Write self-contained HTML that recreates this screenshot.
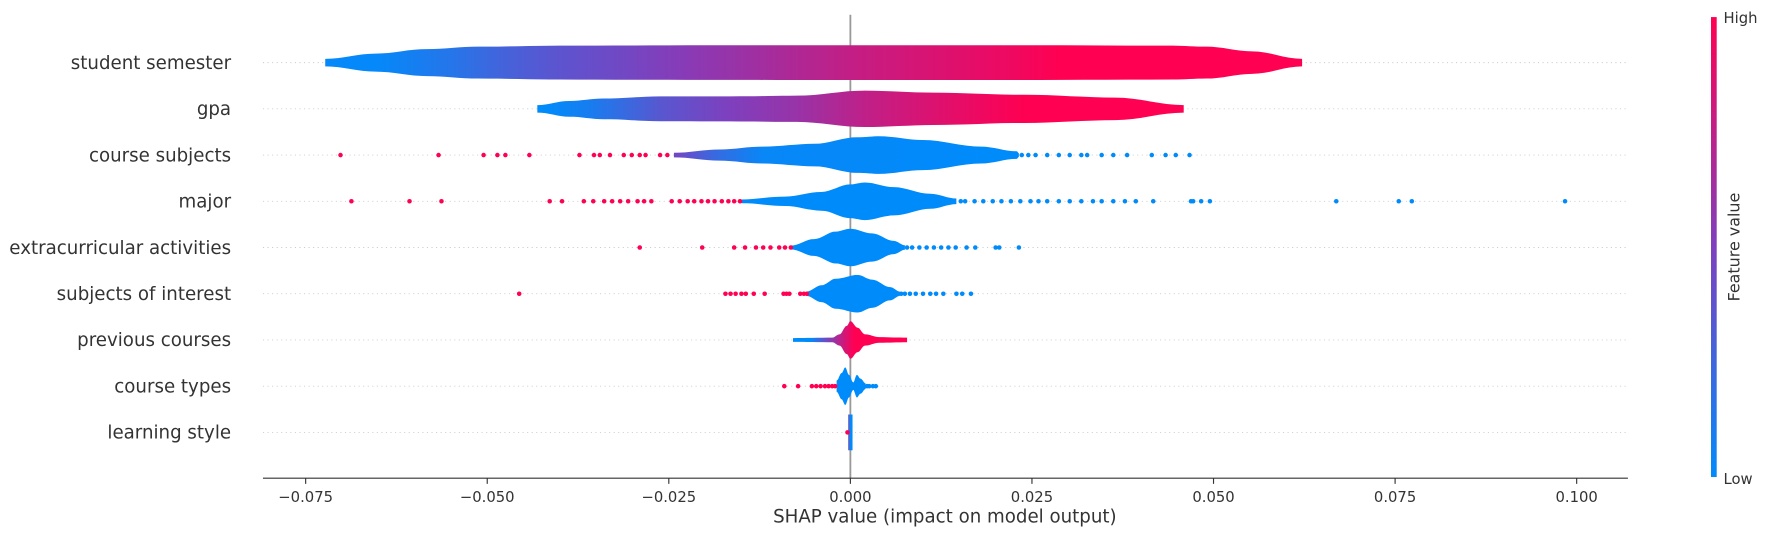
<!DOCTYPE html>
<html><head><meta charset="utf-8"><style>
body{margin:0;background:#fff;font-family:"Liberation Sans",sans-serif}
svg text{font-family:"DejaVu Sans","Liberation Sans",sans-serif}
svg{display:block}
</style></head><body>
<svg id="c" width="1785" height="536" viewBox="0 0 1568 470.8" preserveAspectRatio="none"></svg>
<script>
const features=["student semester","gpa","course subjects","major","extracurricular activities","subjects of interest","previous courses","course types","learning style"];
// violin profiles: [shap value, relative density]
const prof0=[[-0.0723,0.2],[-0.0654,0.48],[-0.0583,0.72],[-0.0513,0.85],[-0.04,0.9],[-0.02,0.92],[0,0.93],[0.02,0.93],[0.0444,0.9],[0.049,0.85],[0.0553,0.6],[0.0622,0.2]];
const prof1=[[-0.0431,0.2],[-0.0387,0.42],[-0.034,0.55],[-0.0262,0.66],[-0.0152,0.67],[-0.0074,0.7],[0.002,0.97],[0.0114,0.86],[0.024,0.75],[0.0365,0.6],[0.0459,0.2]];
const prof2=[[-0.0243,0.12],[-0.018,0.3],[-0.012,0.45],[-0.005,0.6],[0.001,0.95],[0.004,1],[0.01,0.8],[0.018,0.45],[0.0229,0.2],[0.0232,0.1]];
const prof3=[[-0.015,0.1],[-0.009,0.25],[-0.004,0.5],[0,0.9],[0.002,1],[0.006,0.75],[0.011,0.4],[0.0146,0.15]];
const prof4=[[-0.0082,0.1],[-0.005,0.45],[-0.002,0.85],[0,1],[0.003,0.75],[0.006,0.35],[0.0075,0.12]];
const prof5=[[-0.006,0.12],[-0.004,0.45],[-0.002,0.8],[0.001,1],[0.003,0.75],[0.0055,0.35],[0.0068,0.12]];
const prof6=[[-0.0079,0.1],[-0.0025,0.12],[-0.0015,0.3],[-0.0005,0.75],[0,1],[0.001,0.65],[0.002,0.3],[0.004,0.15],[0.0078,0.12]];
const prof7=[[-0.0019,0.3],[-0.0012,0.7],[-0.0007,1],[-0.0002,0.6],[0.0004,0.2],[0.0009,0.6],[0.0014,0.4],[0.0021,0.15]];
const prof8=[[-0.0003,0.95],[0.0003,0.95]];
const profiles=[prof0,prof1,prof2,prof3,prof4,prof5,prof6,prof7,prof8];
// color stops: [shap value, t] (0 = low/blue, 1 = high/red)
const col0=[[-0.065,0.02],[-0.0547,0.15],[-0.047,0.28],[-0.039,0.38],[-0.0315,0.45],[-0.0238,0.53],[-0.016,0.6],[-0.0085,0.68],[-0.0006,0.76],[0.0072,0.82],[0.015,0.88],[0.0229,0.94],[0.0287,1]];
const col1=[[-0.042,0],[-0.0356,0.1],[-0.0262,0.35],[-0.0168,0.5],[-0.0074,0.6],[0.002,0.75],[0.0146,0.9],[0.024,1]];
const col2=[[-0.024,0.45],[-0.018,0.2],[-0.012,0.03],[0.02,0]];
const col3=[[-0.015,0],[0.015,0]];
const col4=[[-0.008,0],[0.008,0]];
const col5=[[-0.006,0],[0.007,0]];
const col6=[[-0.0055,0],[-0.0035,0.4],[-0.001,0.8],[0.0005,1],[0.008,1]];
const col7=[[-0.002,0],[0.002,0]];
const col8=[[-0.0003,0.7],[-0.0001,0],[0.0003,0]];
const colors=[col0,col1,col2,col3,col4,col5,col6,col7,col8];
// outlier dots
const red2=[-0.0702,-0.0567,-0.0505,-0.0486,-0.0475,-0.0442,-0.0373,-0.0353,-0.0345,-0.0331,-0.0312,-0.0301,-0.029,-0.0282,-0.0262,-0.0252];
const blue2=[0.0236,0.0245,0.0255,0.0271,0.0287,0.0302,0.0318,0.0326,0.0346,0.0362,0.0381,0.0415,0.0434,0.0448,0.0467];
const red3=[-0.0687,-0.0607,-0.0563,-0.0414,-0.0397,-0.0367,-0.0354,-0.0339,-0.0328,-0.0317,-0.0306,-0.0293,-0.0284,-0.0274,-0.0246,-0.0235,-0.0224,-0.0215,-0.0205,-0.0196,-0.0187,-0.0177,-0.0168,-0.016,-0.0152];
const blue3=[0.0152,0.0158,0.0171,0.0183,0.0196,0.0208,0.0221,0.0234,0.0248,0.0259,0.0271,0.0287,0.0302,0.0318,0.0334,0.0346,0.0362,0.0378,0.0393,0.0417,0.0469,0.0472,0.0483,0.0495,0.0669,0.0755,0.0773,0.0984];
const red4=[-0.029,-0.0204,-0.016,-0.0145,-0.013,-0.012,-0.011,-0.0098,-0.009,-0.0082];
const blue4=[0.0078,0.0085,0.0095,0.0105,0.0115,0.0125,0.0135,0.0145,0.016,0.0172,0.02,0.0205,0.0232];
const red5=[-0.0456,-0.0172,-0.0165,-0.0158,-0.015,-0.0144,-0.0133,-0.0118,-0.0092,-0.0088,-0.0084,-0.0069,-0.0064,-0.006];
const blue5=[0.007,0.0075,0.0082,0.009,0.01,0.011,0.0118,0.0128,0.0146,0.0154,0.0166];
const red7=[-0.0091,-0.0072,-0.0053,-0.0047,-0.0041,-0.0035,-0.003,-0.0025,-0.0021];
const blue7=[0.0023,0.0026,0.0031,0.0035];
const red8=[-0.0004];
const redDots=[[],[],red2,red3,red4,red5,[],red7,red8];
const blueDots=[[],[],blue2,blue3,blue4,blue5,[],blue7,[]];
const ticks=[-0.075,-0.05,-0.025,0,0.025,0.05,0.075,0.1];
const tickLabels=["−0.075","−0.050","−0.025","0.000","0.025","0.050","0.075","0.100"];

const NS="http://www.w3.org/2000/svg";
const svg=document.getElementById('c');
const X0=747,XS=6380;
const xs=v=>X0+v*XS;
const ys=i=>55+i*40.6;
const HMAX=16.5;
function mk(t,a,p){const e=document.createElementNS(NS,t);for(const k in a)e.setAttribute(k,a[k]);(p||svg).appendChild(e);return e;}
function cmap(t){const b=[0,139,251],m=[126,64,190],r=[255,0,82];let c;if(t<0.5){const u=t/0.5;c=b.map((x,i)=>x+(m[i]-x)*u);}else{const u=(t-0.5)/0.5;c=m.map((x,i)=>x+(r[i]-x)*u);}return `rgb(${c.map(Math.round).join(',')})`;}
const defs=mk('defs',{});
features.forEach((f,i)=>{
  const l=mk('line',{x1:231,x2:1430,y1:ys(i),y2:ys(i),stroke:'#ccc','stroke-width':0.8,'stroke-dasharray':'1,3'});
  
  
  const t=mk('text',{x:203,y:ys(i)+5.5,'text-anchor':'end','font-size':16,fill:'#333'});
  t.textContent=f;
  
  
});
const zl=mk('line',{x1:X0,x2:X0,y1:13,y2:420,stroke:'#999','stroke-width':1.6});


profiles.forEach((p,i)=>{
  const y=ys(i);
  const g=mk('linearGradient',{id:'g'+i,gradientUnits:'userSpaceOnUse',x1:xs(p[0][0]),x2:xs(p[p.length-1][0]),y1:0,y2:0},defs);
  const x1=xs(p[0][0]),x2=xs(p[p.length-1][0]);
  colors[i].forEach(s=>{let o=(xs(s[0])-x1)/(x2-x1);o=Math.max(0,Math.min(1,o));mk('stop',{offset:o,'stop-color':cmap(s[1])},g);});
  const pts=[];
  for(let k=0;k<p.length-1;k++){const a=p[k],b=p[k+1];for(let s=0;s<8;s++){const u=s/8,w=(1-Math.cos(Math.PI*u))/2;pts.push([a[0]+(b[0]-a[0])*u,a[1]+(b[1]-a[1])*w]);}}
  pts.push(p[p.length-1]);
  let d='M'+pts.map(q=>xs(q[0]).toFixed(1)+','+(y-q[1]*HMAX).toFixed(1)).join('L');
  d+='L'+pts.slice().reverse().map(q=>xs(q[0]).toFixed(1)+','+(y+q[1]*HMAX).toFixed(1)).join('L')+'Z';
  const v=mk('path',{d:d,fill:'url(#g'+i+')'});
  
  
  redDots[i].forEach(val=>{const c=mk('circle',{cx:xs(val),cy:y,r:2,fill:'#ff0052'});
    
    });
  blueDots[i].forEach(val=>{const c=mk('circle',{cx:xs(val),cy:y,r:2,fill:'#008bfb'});
    
    });
});
const ax=mk('line',{x1:231,x2:1430,y1:420,y2:420,stroke:'#333','stroke-width':1});


ticks.forEach((t,k)=>{
  const tl=mk('line',{x1:xs(t),x2:xs(t),y1:420,y2:425,stroke:'#333'});
  
  
  const tt=mk('text',{x:xs(t),y:441,'text-anchor':'middle','font-size':13,fill:'#333'});
  tt.textContent=tickLabels[k];
  
  
});
const xt=mk('text',{x:830,y:459,'text-anchor':'middle','font-size':16,fill:'#333'});
xt.textContent='SHAP value (impact on model output)';


const cg=mk('linearGradient',{id:'cb',x1:0,x2:0,y1:0,y2:1},defs);
[0,0.25,0.5,0.75,1].forEach(o=>mk('stop',{offset:o,'stop-color':cmap(1-o)},cg));
const cb=mk('rect',{x:1503,y:15,width:5,height:404,fill:'url(#cb)'});


const hi=mk('text',{x:1514,y:20,'font-size':13,fill:'#333'});hi.textContent='High';


const lo=mk('text',{x:1514,y:425,'font-size':13,fill:'#333'});lo.textContent='Low';


const fv=mk('text',{x:1528,y:217,'font-size':14,fill:'#333','text-anchor':'middle',transform:'rotate(-90 1528 217)'});fv.textContent='Feature value';


</script>
</body></html>
